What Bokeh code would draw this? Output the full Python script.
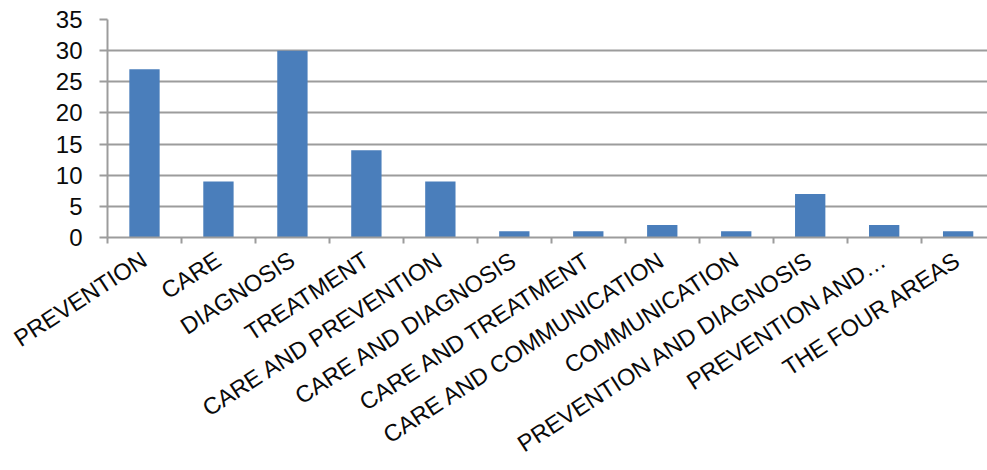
import math

from bokeh.embed import file_html
from bokeh.models import ColumnDataSource, FixedTicker, Range1d
from bokeh.plotting import figure
from bokeh.resources import INLINE

# Number of items per area of focus
categories = [
    "PREVENTION",
    "CARE",
    "DIAGNOSIS",
    "TREATMENT",
    "CARE AND PREVENTION",
    "CARE AND DIAGNOSIS",
    "CARE AND TREATMENT",
    "CARE AND COMMUNICATION",
    "COMMUNICATION",
    "PREVENTION AND DIAGNOSIS",
    "PREVENTION AND…",
    "THE FOUR AREAS",
]
counts = [27, 9, 30, 14, 9, 1, 1, 2, 1, 7, 2, 1]
y_ticks = [0, 5, 10, 15, 20, 25, 30, 35]

BAR_COLOR = "#4a7ebb"
GRID_COLOR = "#9c9c9c"
TEXT_COLOR = "#0a0a0a"
FONT = "Liberation Sans"

# one slot per category; the right end of the last slot runs off the canvas
centers = [i + 0.5 for i in range(len(categories))]
source = ColumnDataSource(data=dict(x=centers, top=counts))

p = figure(
    width=987,
    height=470,
    output_backend="svg",
    toolbar_location=None,
    x_range=Range1d(0, 11.897),
    y_range=Range1d(0, 35),
    min_border_left=107,
    min_border_right=0,
    min_border_top=19,
    min_border_bottom=232,
)
p.outline_line_color = None
p.background_fill_color = "white"
p.border_fill_color = "white"

p.vbar(x="x", top="top", width=0.41, source=source, color=BAR_COLOR, line_color=None)

# horizontal grid
p.xgrid.visible = False
p.ygrid.ticker = FixedTicker(ticks=y_ticks)
p.ygrid.grid_line_color = GRID_COLOR
p.ygrid.grid_line_width = 2

# value axis
yax = p.yaxis[0]
yax.ticker = FixedTicker(ticks=y_ticks)
yax.axis_line_color = GRID_COLOR
yax.axis_line_width = 2
yax.major_tick_line_color = GRID_COLOR
yax.major_tick_line_width = 2
yax.major_tick_out = 8
yax.major_tick_in = 0
yax.minor_tick_line_color = None
yax.major_label_text_font = FONT
yax.major_label_text_font_size = "24px"
yax.major_label_text_color = TEXT_COLOR
yax.major_label_standoff = 17

# category axis: names at slot centres, tick marks at slot edges
xax = p.xaxis[0]
xax.ticker = FixedTicker(ticks=centers, minor_ticks=list(range(len(categories) + 1)))
xax.major_label_overrides = {c: name for c, name in zip(centers, categories)}
xax.axis_line_color = GRID_COLOR
xax.axis_line_width = 2
xax.major_tick_line_color = None
xax.major_tick_out = 0
xax.major_tick_in = 0
xax.minor_tick_line_color = GRID_COLOR
xax.minor_tick_line_width = 2
xax.minor_tick_out = 6
xax.minor_tick_in = 0
xax.major_label_orientation = math.radians(33)
xax.major_label_text_font = FONT
xax.major_label_text_font_size = "23.5px"
xax.major_label_text_color = TEXT_COLOR
xax.major_label_standoff = 14

open("out.html", "w").write(file_html(p, INLINE))
